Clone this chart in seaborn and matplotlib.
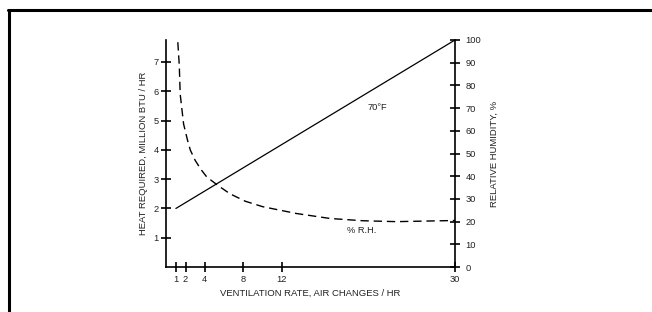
import matplotlib
matplotlib.use("Agg")
import matplotlib.pyplot as plt
from matplotlib.lines import Line2D
import seaborn as sns

sns.set_theme(style="white")
plt.rcParams["font.family"] = ["Liberation Sans", "DejaVu Sans"]

# heat required at 70 F (left axis)
vent_heat = [1, 30]
heat = [2.0, 7.75]

# relative humidity curve (right axis)
vent_rh = [1.2, 1.35, 1.45, 1.8, 2.2, 2.5, 3.0, 3.6, 4.2, 5.25, 6.6, 8.2, 10, 13.5, 17, 20.4, 23.9, 28.7, 30]
rh = [99, 89, 76, 63, 56, 51.5, 47, 43, 39.7, 36.3, 32.3, 29, 26.6, 23.6, 21.4, 20.4, 20.0, 20.4, 20.5]

x_ticks = [1, 2, 4, 8, 12, 30]
heat_ticks = [1, 2, 3, 4, 5, 6, 7]
rh_ticks = list(range(0, 101, 10))

fig = plt.figure(figsize=(6.52, 3.12), dpi=100)
ax = fig.add_axes([0.255, 0.144, 0.443, 0.728])
ax2 = ax.twinx()

sns.lineplot(x=vent_heat, y=heat, ax=ax, color="black", linewidth=0.9)
sns.lineplot(x=vent_rh, y=rh, ax=ax2, color="black", linewidth=1.0,
             dashes=False, linestyle=(0, (6, 3.5)))

ax.set_xlim(0, 30)
ax.set_ylim(0, 7.75)
ax2.set_ylim(0, 100)

ax.set_xticks(x_ticks)
ax.set_yticks(heat_ticks)
ax2.set_yticks(rh_ticks)

for a in (ax, ax2):
    a.spines["top"].set_visible(False)
    for s in a.spines.values():
        s.set_color("black")
        s.set_linewidth(1.2)
    a.tick_params(direction="inout", length=7, width=1.2, colors="black",
                  labelsize=6.7, pad=2, labelcolor="#222222")
ax2.spines["left"].set_visible(False)
ax2.spines["bottom"].set_visible(False)
ax.spines["right"].set_visible(False)
ax.tick_params(axis="y", left=True)
ax.tick_params(axis="x", bottom=True)
ax2.tick_params(axis="y", right=True, pad=4)

ax.set_xlabel("VENTILATION RATE, AIR CHANGES / HR", fontsize=6.8, color="#222222", labelpad=4)
ax.set_ylabel("HEAT REQUIRED, MILLION BTU / HR", fontsize=6.8, color="#222222", labelpad=4)
ax2.set_ylabel("RELATIVE HUMIDITY, %", fontsize=6.8, color="#222222", labelpad=6)

ax.text(21.9, 5.45, "70°F", fontsize=6.7, color="#222222", ha="center", va="center")
ax2.text(20.3, 16.3, "% R.H.", fontsize=6.7, color="#222222", ha="center", va="center")

# border at top and left of the image
fig.add_artist(Line2D([7.5 / 652, 1], [1 - 9.5 / 312] * 2, color="black", linewidth=2.2,
                      transform=fig.transFigure))
fig.add_artist(Line2D([8.5 / 652] * 2, [0, 1 - 9.5 / 312], color="black", linewidth=2.2,
                      transform=fig.transFigure))

fig.savefig("out.png", dpi=100)
